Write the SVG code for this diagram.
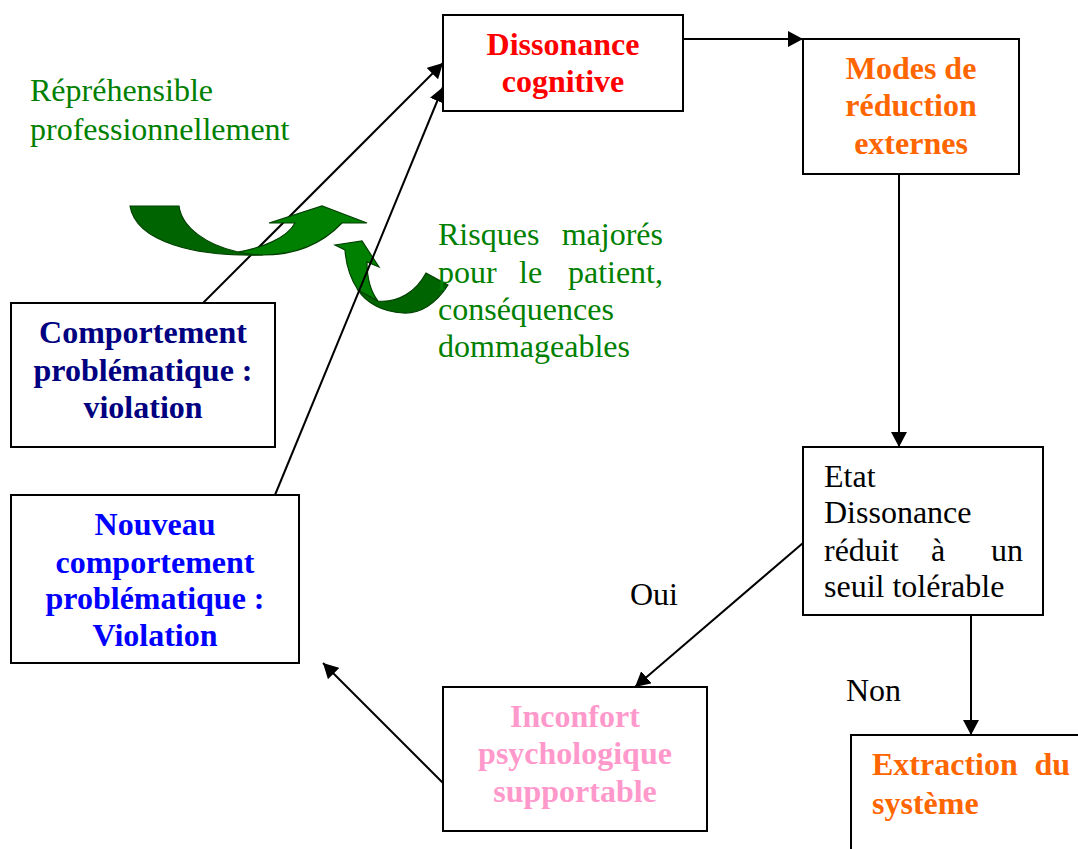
<svg xmlns="http://www.w3.org/2000/svg" width="1078" height="849" viewBox="0 0 1078 849">
<style>
.b{fill:#fff;stroke:#000;stroke-width:2}
text{font-family:"Liberation Serif","Times New Roman",serif;font-size:32px}
.h{font-weight:bold;text-anchor:middle}
.s{font-weight:bold}
.g{fill:#008000}
.c line{stroke:#000;stroke-width:2}
.d{fill:#006400;stroke:#004000;stroke-width:1.2}
.l{fill:#008000;stroke:#004000;stroke-width:1.2}
</style>
<defs><marker id="a" markerWidth="16" markerHeight="16" refX="15" refY="8" orient="auto" markerUnits="userSpaceOnUse"><path d="M0 0L15 8L0 16Z" fill="#000"/></marker></defs>
<rect width="1078" height="849" fill="#fff"/>
<g id="w2"><path class="d" d="M426 273L448 285C436 304 420 314 403 313C383 312 366 303 358 290L378 301C398 303 416 292 426 273Z"/><path class="l" d="M378 301L358 290C350 278 346 264 345 250L335 245L362 241L379 267L367 262C367 278 371 292 378 301Z"/></g>
<g class="c">
<line x1="203" y1="303" x2="443" y2="63" marker-end="url(#a)"/>
<line x1="275" y1="495" x2="443" y2="87" marker-end="url(#a)"/>
<line x1="683" y1="39" x2="803" y2="39" marker-end="url(#a)"/>
<line x1="899" y1="174" x2="899" y2="447" marker-end="url(#a)"/>
<line x1="803" y1="543" x2="635" y2="687" marker-end="url(#a)"/>
<line x1="971" y1="615" x2="971" y2="735" marker-end="url(#a)"/>
<line x1="443" y1="783" x2="323" y2="663" marker-end="url(#a)"/>
</g>
<g id="w1"><path class="d" d="M130 206H179C182 228 207 245 238 252L263 255C195 257 136 242 130 206Z"/><path class="l" d="M238 252C262 248 287 238 295 223H269L322 206L367 223H342C320 246 292 255 263 255C254 255 246 254 238 252Z"/></g>
<g id="n1"><rect class="b" x="443" y="15" width="240" height="96"/><text class="h" fill="#f00" x="563" y="55">Dissonance</text><text class="h" fill="#f00" x="563" y="92">cognitive</text></g>
<g id="n2"><rect class="b" x="803" y="39" width="216" height="135"/><text class="h" fill="#f60" x="911" y="79">Modes de</text><text class="h" fill="#f60" x="911" y="116">réduction</text><text class="h" fill="#f60" x="911" y="154">externes</text></g>
<g id="n3"><rect class="b" x="803" y="447" width="240" height="168"/><text x="824" y="487">Etat</text><text x="824" y="523">Dissonance</text><text x="824" y="561">réduit</text><text x="931" y="561">à</text><text x="1023" y="561" text-anchor="end">un</text><text x="824" y="597">seuil tolérable</text></g>
<g id="n4"><rect class="b" x="851" y="735" width="240" height="130"/><text class="s" fill="#f60" x="872" y="775">Extraction</text><text class="s" fill="#f60" x="1070" y="775" text-anchor="end">du</text><text class="s" fill="#f60" x="872" y="814">système</text></g>
<g id="n5"><rect class="b" x="443" y="687" width="264" height="144"/><text class="h" fill="#f9c" x="575" y="727">Inconfort</text><text class="h" fill="#f9c" x="575" y="764">psychologique</text><text class="h" fill="#f9c" x="575" y="802">supportable</text></g>
<g id="n6"><rect class="b" x="11" y="495" width="288" height="168"/><text class="h" fill="#00f" x="155" y="535">Nouveau</text><text class="h" fill="#00f" x="155" y="573">comportement</text><text class="h" fill="#00f" x="155" y="609">problématique :</text><text class="h" fill="#00f" x="155" y="646">Violation</text></g>
<g id="n7"><rect class="b" x="11" y="303" width="264" height="144"/><text class="h" fill="#000080" x="143" y="343">Comportement</text><text class="h" fill="#000080" x="143" y="381">problématique :</text><text class="h" fill="#000080" x="143" y="418">violation</text></g>
<g id="t">
<text class="g" x="30" y="101">Répréhensible</text><text class="g" x="30" y="140">professionnellement</text>
<text class="g" x="438" y="245">Risques</text><text class="g" x="663" y="245" text-anchor="end">majorés</text>
<text class="g" x="438" y="283">pour</text><text class="g" x="519" y="283">le</text><text class="g" x="663" y="283" text-anchor="end">patient,</text>
<text class="g" x="438" y="320">conséquences</text><text class="g" x="438" y="357">dommageables</text>
<text x="630" y="605">Oui</text>
<text x="846" y="701">Non</text>
</g>
</svg>
